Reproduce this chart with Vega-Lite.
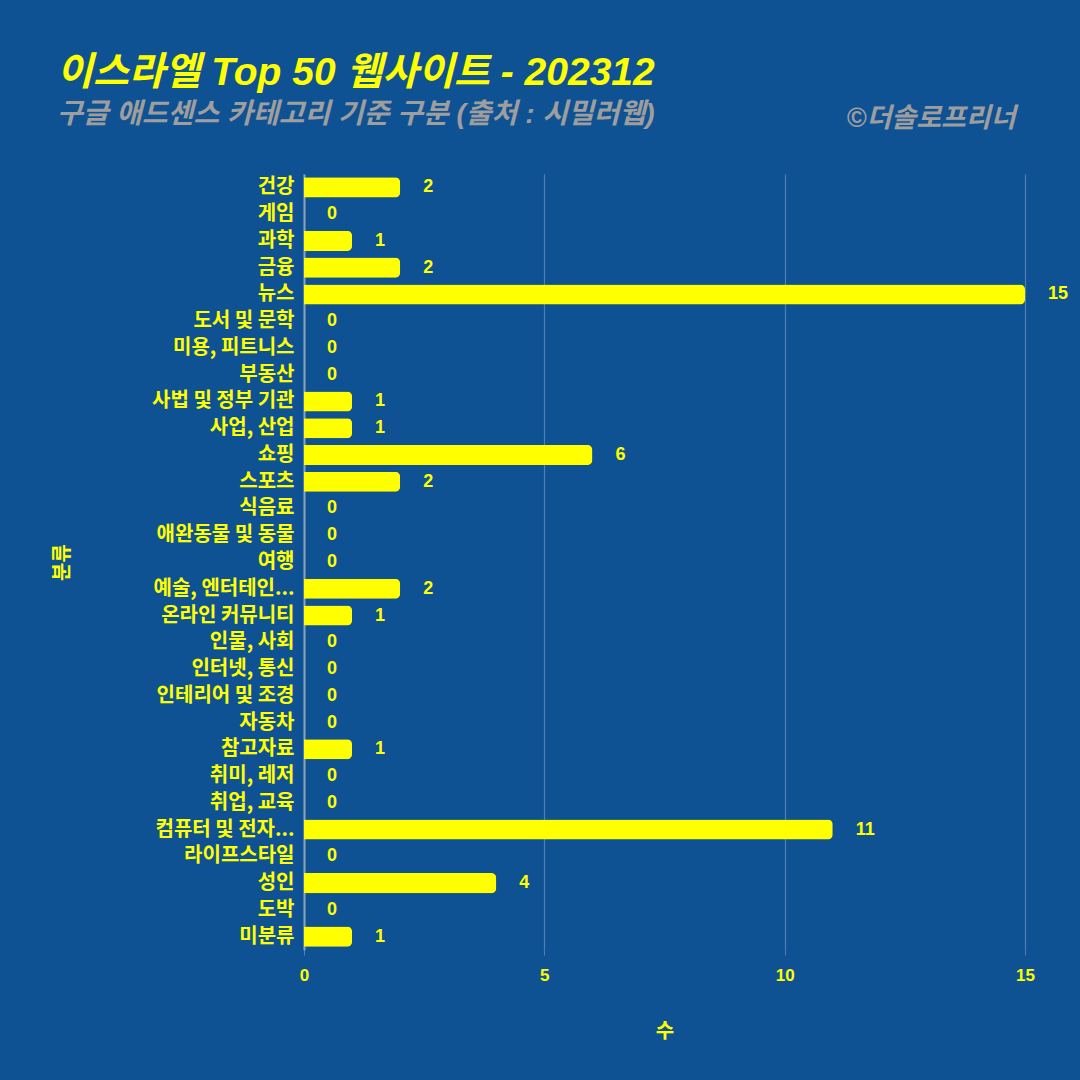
{
  "$schema": "https://vega.github.io/schema/vega-lite/v6.json",
  "width": 721,
  "height": 776,
  "autosize": {"type": "none"},
  "padding": {"left": 304, "top": 174, "right": 55, "bottom": 130},
  "background": "#0F5293",
  "view": {"stroke": null},
  "title": {
    "text": "이스라엘 Top 50 웹사이트 - 202312",
    "subtitle": "구글 애드센스 카테고리 기준 구분 (출처 : 시밀러웹)",
    "anchor": "start",
    "frame": "group",
    "dx": -247,
    "dy": 63,
    "offset": 38,
    "font": "Liberation Sans, Noto Sans CJK KR",
    "fontSize": 39,
    "fontWeight": "bold",
    "fontStyle": "italic",
    "color": "#FFFF00",
    "subtitleFont": "Liberation Sans, Noto Sans CJK KR",
    "subtitleFontSize": 28,
    "subtitleFontWeight": "bold",
    "subtitleFontStyle": "italic",
    "subtitleColor": "#9E9E9E",
    "subtitlePadding": 8
  },
  "resolve": {"axis": {"x": "independent"}},
  "data": {
    "values": [
      {"category": "건강", "count": 2},
      {"category": "게임", "count": 0},
      {"category": "과학", "count": 1},
      {"category": "금융", "count": 2},
      {"category": "뉴스", "count": 15},
      {"category": "도서 및 문학", "count": 0},
      {"category": "미용, 피트니스", "count": 0},
      {"category": "부동산", "count": 0},
      {"category": "사법 및 정부 기관", "count": 1},
      {"category": "사업, 산업", "count": 1},
      {"category": "쇼핑", "count": 6},
      {"category": "스포츠", "count": 2},
      {"category": "식음료", "count": 0},
      {"category": "애완동물 및 동물", "count": 0},
      {"category": "여행", "count": 0},
      {"category": "예술, 엔터테인먼트", "count": 2},
      {"category": "온라인 커뮤니티", "count": 1},
      {"category": "인물, 사회", "count": 0},
      {"category": "인터넷, 통신", "count": 0},
      {"category": "인테리어 및 조경", "count": 0},
      {"category": "자동차", "count": 0},
      {"category": "참고자료", "count": 1},
      {"category": "취미, 레저", "count": 0},
      {"category": "취업, 교육", "count": 0},
      {"category": "컴퓨터 및 전자제품", "count": 11},
      {"category": "라이프스타일", "count": 0},
      {"category": "성인", "count": 4},
      {"category": "도박", "count": 0},
      {"category": "미분류", "count": 1}
    ]
  },
  "encoding": {
    "y": {
      "field": "category",
      "type": "nominal",
      "sort": null,
      "scale": {"paddingInner": 0.25, "paddingOuter": 0.125},
      "axis": {
        "title": "분류",
        "titleFont": "Noto Sans CJK KR",
        "titleFontSize": 20,
        "titleFontWeight": "bold",
        "titleColor": "#FFFF00",
        "titleX": -232,
        "labelFont": "Noto Sans CJK KR",
        "labelFontSize": 20,
        "labelFontWeight": "bold",
        "labelColor": "#FFFF00",
        "labelPadding": 10,
        "labelLimit": 300,
        "labelExpr": "datum.label == '예술, 엔터테인먼트' ? '예술, 엔터테인...' : datum.label == '컴퓨터 및 전자제품' ? '컴퓨터 및 전자...' : datum.label",
        "ticks": false,
        "domain": true,
        "domainColor": "#8FA3B8",
        "domainWidth": 2
      }
    }
  },
  "layer": [
    {
      "mark": {"type": "bar", "color": "#FFFF00", "cornerRadiusEnd": 5},
      "encoding": {
        "x": {
          "field": "count",
          "type": "quantitative",
          "scale": {"domain": [0, 15], "nice": false},
          "axis": {
            "orient": "bottom",
            "title": "수",
            "titleFont": "Noto Sans CJK KR",
            "titleFontSize": 20,
            "titleFontWeight": "bold",
            "titleColor": "#FFFF00",
            "titlePadding": 38,
            "values": [0, 5, 10, 15],
            "labelFont": "Liberation Sans",
            "labelFontSize": 17,
            "labelFontWeight": "bold",
            "labelColor": "#FFFF00",
            "labelPadding": 12,
            "labelFlush": false,
            "domain": false,
            "ticks": true,
            "tickColor": "#4F7FAF",
            "tickSize": 5,
            "grid": true,
            "gridColor": "#4F7FAF",
            "gridWidth": 1.2
          }
        }
      }
    },
    {
      "mark": {
        "type": "text",
        "align": "left",
        "baseline": "middle",
        "dx": 23,
        "font": "Liberation Sans",
        "fontSize": 18,
        "fontWeight": "bold",
        "color": "#FFFF00"
      },
      "encoding": {
        "x": {
          "field": "count",
          "type": "quantitative",
          "axis": {
            "orient": "top",
            "title": "©더솔로프리너",
            "titleFont": "Liberation Sans, Noto Sans CJK KR",
            "titleFontSize": 27,
            "titleFontWeight": "bold",
            "titleFontStyle": "italic",
            "titleColor": "#9E9E9E",
            "titleAnchor": "end",
            "titleAlign": "right",
            "titleBaseline": "alphabetic",
            "titleX": 711,
            "titleY": -48,
            "labels": false,
            "ticks": false,
            "domain": false,
            "grid": false
          }
        },
        "text": {"field": "count", "type": "quantitative"}
      }
    }
  ]
}
